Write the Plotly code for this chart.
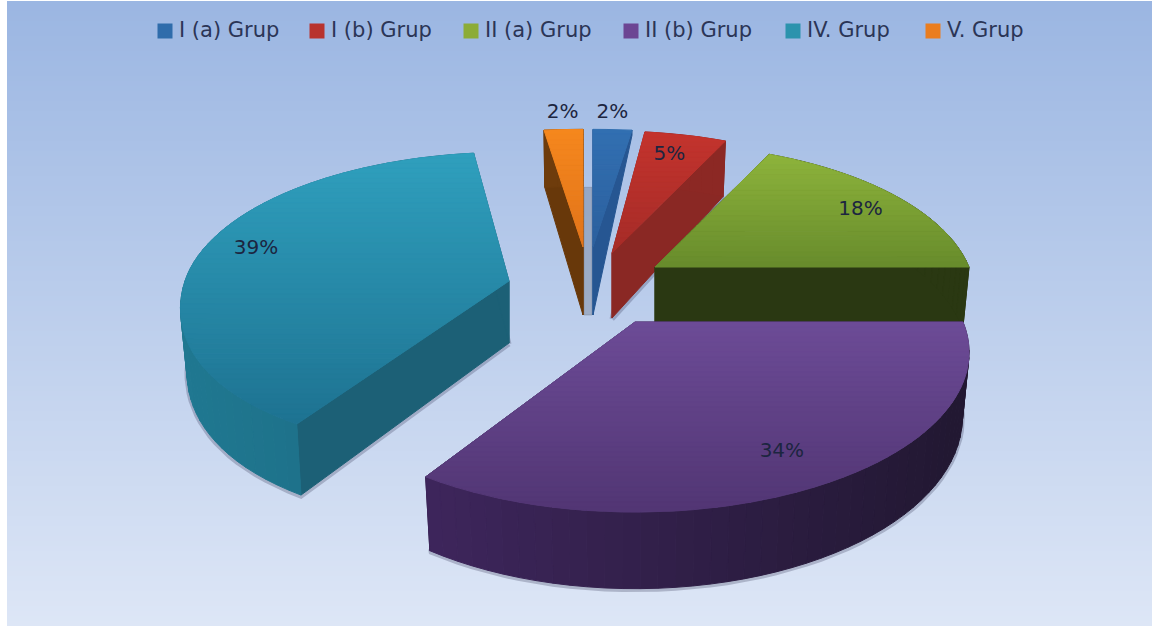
import math
import numpy as np
import plotly.graph_objects as go

# ---- data ----
categories = ["I (a) Grup", "I (b) Grup", "II (a) Grup", "II (b) Grup", "IV. Grup", "V. Grup"]
values = [2, 5, 18, 34, 39, 2]

# ---- style of the exploded 3-D pie (one entry per slice) ----
swatch = ["#2f6cab", "#b8332e", "#8cac37", "#6c4593", "#2c93ad", "#ea7d1f"]
key_x = [165, 317, 471, 631, 793, 933]
KEY_Y = 31
KEY_TEXT_DX = 14
apex_x = [593, 612, 655, 635, 509, 583]
apex_y = [247, 253, 267, 322, 281, 247]
rad_x = [370, 312, 314, 328, 324, 370]
rad_y = [140, 145, 146, 154, 148, 140]
persp = [0.19, 0.19, 0.19, 0.19, 0.15, 0.19]
lower_stretch = [0, 0, 0, 0, 0.095, 0]
depth = [68, 65, 62, 62, 62, 68]
top_hi = [(50, 112, 178), (196, 52, 46), (142, 180, 60), (109, 76, 151), (48, 160, 190), (246, 136, 30)]
top_lo = [(44, 96, 158), (166, 44, 40), (104, 140, 44), (82, 54, 116), (30, 115, 146), (226, 116, 26)]
wall_a = [(40, 88, 150), (140, 40, 36), (42, 56, 18), (62, 38, 92), (32, 120, 145), (110, 60, 12)]
wall_b = [(40, 88, 150), (140, 40, 36), (42, 56, 18), (34, 24, 50), (28, 106, 130), (110, 60, 12)]
radial = [(38, 86, 146), (138, 40, 36), (42, 56, 18), (44, 28, 66), (28, 96, 118), (104, 56, 10)]
label_frac = [1.15, 0.78, 0.85, 0.78, 0.82, 1.15]
label_nudge = [(-3, 1), (0, -6), (1, 3), (-1, 4), (-2, -6), (2, 1)]
draw_order = [5, 0, 1, 2, 4, 3]
TIP_DEPTH = {0: 5}  # the thin first slice has almost no visible outer corner
NO_SHADOW = {0, 5}
BOTTOM_SHRINK = 0.98
BG_TOP, BG_BOTTOM = "rgb(155,182,226)", "rgb(221,230,246)"
TEXT = "#1c2540"
FONT = "DejaVu Sans"


def rgb(c):
    return f"rgb({int(c[0])},{int(c[1])},{int(c[2])})"


def mix(a, b, t):
    t = max(0.0, min(1.0, t))
    return tuple(a[i] + (b[i] - a[i]) * t for i in range(3))


def x_offset(i, u, v):
    den = 1 + persp[i] * v
    return rad_x[i] * u / den * (1 + lower_stretch[i] * max(0.0, -v) ** 2)


def top_pt(i, th):
    u, v = math.sin(th), math.cos(th)
    den = 1 + persp[i] * v
    return apex_x[i] + x_offset(i, u, v), apex_y[i] - rad_y[i] * v / den


def bot_pt(i, th):
    u, v = math.sin(th), math.cos(th)
    den = 1 + persp[i] * v
    return (apex_x[i] + BOTTOM_SHRINK * x_offset(i, u, v),
            apex_y[i] - rad_y[i] * v / den + depth[i] / den)


def clip(poly, y0, y1):
    def half(pts, inside, cross_y):
        out = []
        for k in range(len(pts)):
            p, q = pts[k], pts[(k + 1) % len(pts)]
            ip, iq = inside(p), inside(q)
            if ip:
                out.append(p)
            if ip != iq:
                t = (cross_y - p[1]) / (q[1] - p[1])
                out.append((p[0] + (q[0] - p[0]) * t, cross_y))
        return out
    pts = half(poly, lambda p: p[1] >= y0, y0)
    if pts:
        pts = half(pts, lambda p: p[1] <= y1, y1)
    return pts


def poly_trace(pts, color):
    xs = [p[0] for p in pts] + [pts[0][0]]
    ys = [p[1] for p in pts] + [pts[0][1]]
    return go.Scatter(x=xs, y=ys, mode="lines", fill="toself", fillcolor=color,
                      line=dict(color=color, width=1), hoverinfo="skip", showlegend=False)


fig = go.Figure()

# gradient panel behind the chart
n_bands = 125
edges = np.linspace(1, 626, n_bands + 1)
fig.add_trace(go.Heatmap(x=[7, 1152], y=edges, z=[[k] for k in range(n_bands)],
                         colorscale=[[0, BG_TOP], [1, BG_BOTTOM]], showscale=False,
                         hoverinfo="skip"))

# key row across the top
fig.add_trace(go.Scatter(x=key_x, y=[KEY_Y] * len(key_x), mode="markers", showlegend=False,
                         hoverinfo="skip",
                         marker=dict(symbol="square", size=15, color=swatch)))
fig.add_trace(go.Scatter(x=[k + KEY_TEXT_DX for k in key_x], y=[KEY_Y + 1] * len(key_x),
                         mode="text", text=categories, textposition="middle right",
                         showlegend=False, hoverinfo="skip",
                         textfont=dict(family=FONT, size=21, color="#2b3556")))

# slice angles, clockwise from twelve o'clock
total = sum(values)
cum = np.cumsum([0] + values) / total * 2 * math.pi
starts, ends = cum[:-1], cum[1:]

# faint grey shadow between the two thin slices
o, b = 5, 0
y_start = bot_pt(o, starts[o])[1]
fig.add_trace(poly_trace([(apex_x[o] + 1, y_start), (apex_x[b] - 1, y_start),
                          (apex_x[b] - 1, apex_y[b] + depth[b]),
                          (apex_x[o] + 1, apex_y[o] + depth[o])], "rgba(110,120,140,0.38)"))

for i in draw_order:
    a0, a1 = starts[i], ends[i]
    ths = np.linspace(a0, a1, max(3, int(math.degrees(a1 - a0) / 2.5)) + 1)
    tops = [top_pt(i, t) for t in ths]
    bots = [bot_pt(i, t) for t in ths]
    apex = (apex_x[i], apex_y[i])
    apex_b = (apex_x[i], apex_y[i] + depth[i])

    # soft shadow along the foot of the wall
    if i not in NO_SHADOW:
        fig.add_trace(go.Scatter(x=[apex_b[0]] + [p[0] for p in bots] + [apex_b[0]],
                                 y=[apex_b[1] + 1] + [p[1] + 1 for p in bots] + [apex_b[1] + 1],
                                 mode="lines", line=dict(color="rgba(40,40,70,0.25)", width=5),
                                 hoverinfo="skip", showlegend=False))

    # straight walls
    for j, (t, b_end) in enumerate(((tops[0], bots[0]), (tops[-1], bots[-1]))):
        if i in TIP_DEPTH and j == 1:
            b_end = (t[0], t[1] + TIP_DEPTH[i])
        fig.add_trace(poly_trace([apex, t, b_end, apex_b], rgb(radial[i])))

    # outer curved wall
    xmin, xmax = min(p[0] for p in bots), max(p[0] for p in bots)
    if i not in TIP_DEPTH:
        for k in range(len(ths) - 1):
            t = ((tops[k][0] + tops[k + 1][0]) / 2 - xmin) / max(1, xmax - xmin)
            fig.add_trace(poly_trace([tops[k], tops[k + 1], bots[k + 1], bots[k]],
                                     rgb(mix(wall_a[i], wall_b[i], t))))

    # top face, shaded in horizontal bands
    poly = [apex] + tops
    ymin, ymax = min(p[1] for p in poly), max(p[1] for p in poly)
    n = max(2, int((ymax - ymin) / 5))
    for k in range(n):
        y0 = ymin + (ymax - ymin) * k / n
        y1 = ymin + (ymax - ymin) * (k + 1) / n
        part = clip(poly, y0, y1)
        if len(part) >= 3:
            fig.add_trace(poly_trace(part, rgb(mix(top_hi[i], top_lo[i], (k + 0.5) / n))))

# percentage labels
lx, ly, lt = [], [], []
for i, v in enumerate(values):
    mid = (starts[i] + ends[i]) / 2
    px, py = top_pt(i, mid)
    lx.append(apex_x[i] + label_frac[i] * (px - apex_x[i]) + label_nudge[i][0])
    ly.append(apex_y[i] + label_frac[i] * (py - apex_y[i]) + label_nudge[i][1])
    lt.append(f"{v}%")
fig.add_trace(go.Scatter(x=lx, y=ly, text=lt, mode="text", textposition="middle center",
                         textfont=dict(family=FONT, size=20, color=TEXT),
                         hoverinfo="skip", showlegend=False))

fig.update_layout(
    width=1166, height=630, margin=dict(l=0, r=0, t=0, b=0),
    paper_bgcolor="white", plot_bgcolor="white", showlegend=False,
    xaxis=dict(range=[0, 1166], visible=False, fixedrange=True),
    yaxis=dict(range=[630, 0], visible=False, fixedrange=True),
)
fig.write_html("out.html", config=dict(displayModeBar=False),
               post_script="document.body.style.margin='0';")
